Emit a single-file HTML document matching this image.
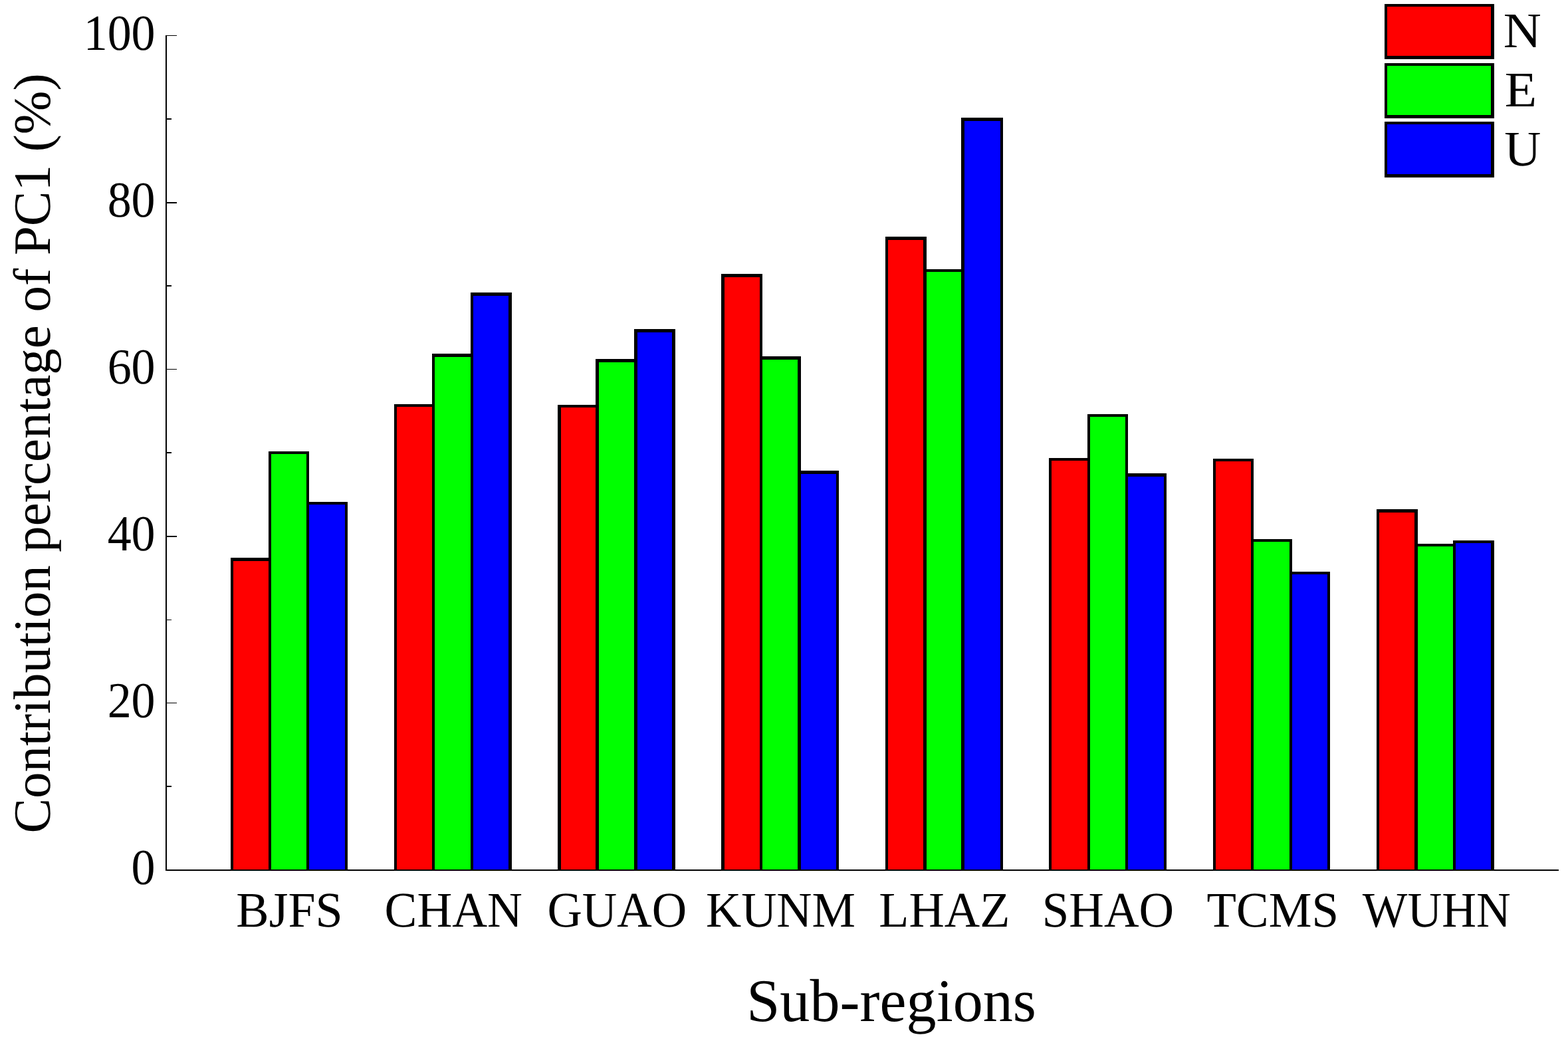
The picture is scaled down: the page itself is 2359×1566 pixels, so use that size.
<!DOCTYPE html>
<html lang="en"><head><meta charset="utf-8">
<title>Contribution percentage of PC1 by sub-region</title>
<style>
html,body{margin:0;padding:0;background:#fff;}
body{width:2359px;height:1566px;overflow:hidden;}
svg{display:block;}
text{font-family:"Liberation Serif", "DejaVu Serif", serif;fill:#000;text-rendering:geometricPrecision;}
.s{shape-rendering:crispEdges;}
</style></head><body>
<svg width="2359" height="1566" viewBox="0 0 2359 1566">
<rect width="2359" height="1566" fill="#fff"/>
<g class="s">
<!-- BJFS -->
<rect x="347" y="839" width="61" height="471" fill="#000"/>
<rect x="404" y="679" width="61" height="631" fill="#000"/>
<rect x="461" y="755" width="62" height="555" fill="#000"/>
<rect x="351" y="844" width="53" height="464" fill="#ff0000"/>
<rect x="408" y="683" width="53" height="625" fill="#00ff00"/>
<rect x="465" y="759" width="54" height="549" fill="#0000ff"/>
<!-- CHAN -->
<rect x="593" y="608" width="61" height="702" fill="#000"/>
<rect x="650" y="532" width="62" height="778" fill="#000"/>
<rect x="708" y="440" width="62" height="870" fill="#000"/>
<rect x="597" y="612" width="53" height="696" fill="#ff0000"/>
<rect x="654" y="537" width="54" height="771" fill="#00ff00"/>
<rect x="712" y="445" width="53" height="863" fill="#0000ff"/>
<!-- GUAO -->
<rect x="839" y="609" width="62" height="701" fill="#000"/>
<rect x="896" y="540" width="63" height="770" fill="#000"/>
<rect x="954" y="495" width="62" height="815" fill="#000"/>
<rect x="844" y="613" width="52" height="695" fill="#ff0000"/>
<rect x="901" y="545" width="53" height="763" fill="#00ff00"/>
<rect x="959" y="500" width="52" height="808" fill="#0000ff"/>
<!-- KUNM -->
<rect x="1085" y="412" width="62" height="898" fill="#000"/>
<rect x="1143" y="536" width="62" height="774" fill="#000"/>
<rect x="1200" y="708" width="62" height="602" fill="#000"/>
<rect x="1090" y="417" width="53" height="891" fill="#ff0000"/>
<rect x="1147" y="541" width="53" height="767" fill="#00ff00"/>
<rect x="1205" y="713" width="53" height="595" fill="#0000ff"/>
<!-- LHAZ -->
<rect x="1332" y="356" width="62" height="954" fill="#000"/>
<rect x="1389" y="405" width="62" height="905" fill="#000"/>
<rect x="1446" y="177" width="63" height="1133" fill="#000"/>
<rect x="1336" y="361" width="53" height="947" fill="#ff0000"/>
<rect x="1394" y="409" width="52" height="899" fill="#00ff00"/>
<rect x="1451" y="182" width="54" height="1126" fill="#0000ff"/>
<!-- SHAO -->
<rect x="1578" y="689" width="62" height="621" fill="#000"/>
<rect x="1636" y="623" width="61" height="687" fill="#000"/>
<rect x="1693" y="712" width="62" height="598" fill="#000"/>
<rect x="1582" y="693" width="54" height="615" fill="#ff0000"/>
<rect x="1640" y="627" width="53" height="681" fill="#00ff00"/>
<rect x="1697" y="717" width="54" height="591" fill="#0000ff"/>
<!-- TCMS -->
<rect x="1825" y="690" width="61" height="620" fill="#000"/>
<rect x="1882" y="811" width="62" height="499" fill="#000"/>
<rect x="1940" y="860" width="61" height="450" fill="#000"/>
<rect x="1829" y="694" width="53" height="614" fill="#ff0000"/>
<rect x="1886" y="815" width="54" height="493" fill="#00ff00"/>
<rect x="1944" y="864" width="53" height="444" fill="#0000ff"/>
<!-- WUHN -->
<rect x="2071" y="766" width="62" height="544" fill="#000"/>
<rect x="2128" y="818" width="62" height="492" fill="#000"/>
<rect x="2186" y="813" width="62" height="497" fill="#000"/>
<rect x="2075" y="771" width="53" height="537" fill="#ff0000"/>
<rect x="2133" y="822" width="53" height="486" fill="#00ff00"/>
<rect x="2190" y="817" width="53" height="491" fill="#0000ff"/>
</g>
<g class="s" fill="#000">
<rect x="249" y="53" width="2" height="1257"/>
<rect x="249" y="1308" width="2096" height="2"/>
<rect x="249" y="53" width="17" height="1"/>
<rect x="249" y="178" width="9" height="2"/>
<rect x="249" y="304" width="17" height="2"/>
<rect x="249" y="429" width="9" height="2"/>
<rect x="249" y="555" width="17" height="1"/>
<rect x="249" y="680" width="9" height="2"/>
<rect x="249" y="806" width="17" height="2"/>
<rect x="249" y="932" width="9" height="1"/>
<rect x="249" y="1057" width="17" height="1"/>
<rect x="249" y="1182" width="9" height="2"/>
</g>
<g>
<text transform="translate(233.60 1330.40) scale(0.9470 1)" font-size="76.00" text-anchor="end">0</text>
<text transform="translate(233.60 1079.30) scale(0.9470 1)" font-size="76.00" text-anchor="end">20</text>
<text transform="translate(233.60 828.20) scale(0.9470 1)" font-size="76.00" text-anchor="end">40</text>
<text transform="translate(233.60 577.10) scale(0.9470 1)" font-size="76.00" text-anchor="end">60</text>
<text transform="translate(233.60 326.00) scale(0.9470 1)" font-size="76.00" text-anchor="end">80</text>
<text transform="translate(233.60 74.90) scale(0.9470 1)" font-size="76.00" text-anchor="end">100</text>
</g>
<g>
<text transform="translate(435.50 1394.20) scale(0.9854 1)" font-size="75.00" text-anchor="middle">BJFS</text>
<text transform="translate(682.25 1394.20) scale(0.9758 1)" font-size="75.00" text-anchor="middle">CHAN</text>
<text transform="translate(928.25 1394.20) scale(0.9681 1)" font-size="75.00" text-anchor="middle">GUAO</text>
<text transform="translate(1174.50 1394.20) scale(0.9824 1)" font-size="75.00" text-anchor="middle">KUNM</text>
<text transform="translate(1420.75 1394.20) scale(0.9855 1)" font-size="75.00" text-anchor="middle">LHAZ</text>
<text transform="translate(1667.00 1394.20) scale(0.9710 1)" font-size="75.00" text-anchor="middle">SHAO</text>
<text transform="translate(1914.75 1394.20) scale(0.9710 1)" font-size="75.00" text-anchor="middle">TCMS</text>
<text transform="translate(2161.25 1394.20) scale(0.9562 1)" font-size="75.00" text-anchor="middle">WUHN</text>
</g>
<text transform="translate(1341.08 1536.20) scale(0.9907 1)" font-size="91.00" text-anchor="middle">Sub-regions</text>
<text transform="translate(75.00 681.90) rotate(-90) scale(0.9983 1)" font-size="79.00" text-anchor="middle">Contribution percentage of PC1 (%)</text>
<g class="s">
<rect x="2083" y="6" width="165" height="83" fill="#000"/>
<rect x="2087" y="10" width="156" height="74" fill="#ff0000"/>
<rect x="2083" y="95" width="165" height="83" fill="#000"/>
<rect x="2087" y="99" width="156" height="74" fill="#00ff00"/>
<rect x="2083" y="183" width="165" height="84" fill="#000"/>
<rect x="2087" y="187" width="156" height="75" fill="#0000ff"/>
</g>
<g>
<text transform="translate(2290.25 70.60) scale(1.0533 1)" font-size="75.00" text-anchor="middle">N</text>
<text transform="translate(2288.00 159.70) scale(1.0553 1)" font-size="75.00" text-anchor="middle">E</text>
<text transform="translate(2290.75 248.90) scale(1.0166 1)" font-size="75.00" text-anchor="middle">U</text>
</g>
</svg>
</body></html>
